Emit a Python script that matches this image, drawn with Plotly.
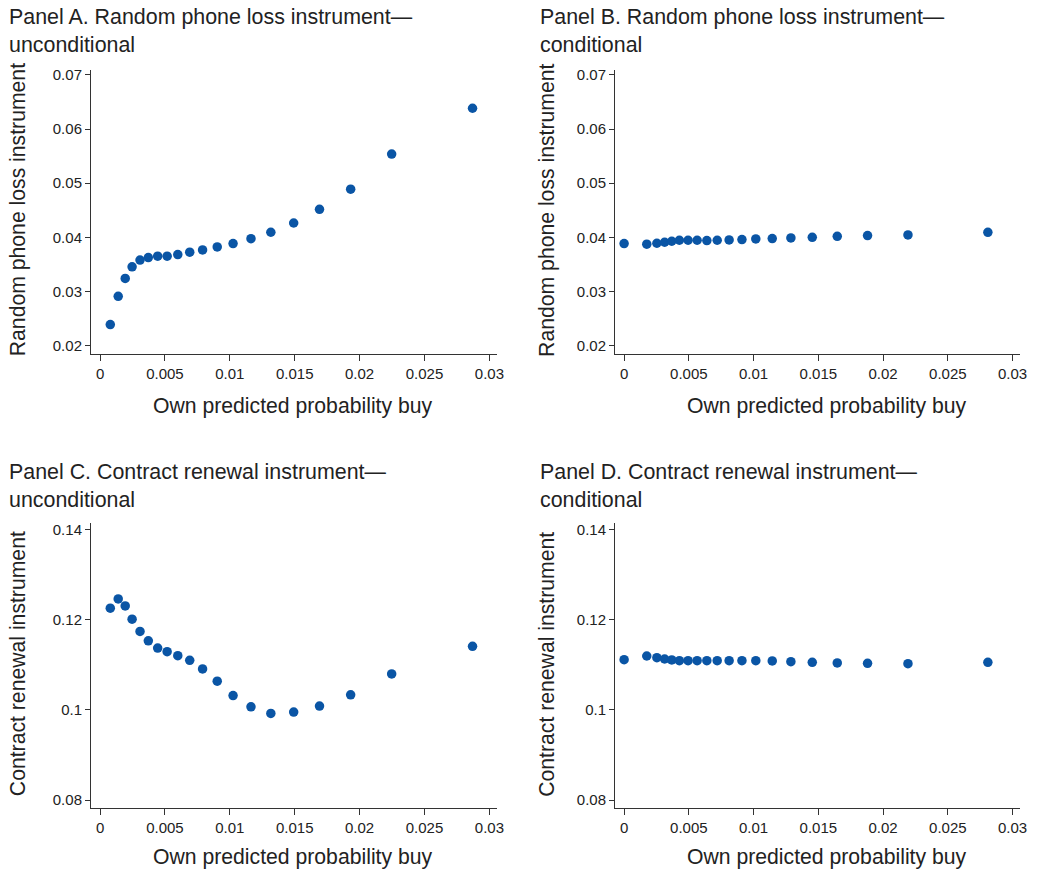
import plotly.graph_objects as go

# ---- data ----
x_uncond = [0.00079, 0.0014, 0.00194, 0.00247, 0.00308, 0.00372, 0.00444, 0.00517, 0.00599, 0.00691,
            0.0079, 0.00903, 0.01025, 0.01163, 0.01316, 0.01492, 0.01691, 0.01931, 0.02247, 0.0287]
x_cond = [0.0, 0.00175, 0.00253, 0.00313, 0.00368, 0.00427, 0.00494, 0.00564, 0.00639, 0.00719,
          0.00811, 0.0091, 0.01017, 0.01144, 0.01288, 0.01453, 0.01646, 0.0188, 0.02192, 0.02809]

y_phone_uncond = [0.02387, 0.02908, 0.03239, 0.03454, 0.03578, 0.03626, 0.03651, 0.03651, 0.03681, 0.03725,
                  0.03767, 0.03822, 0.03883, 0.03975, 0.04093, 0.04264, 0.04516, 0.0489, 0.05539, 0.06385]
y_phone_cond = [0.03884, 0.03872, 0.0389, 0.03908, 0.03927, 0.03945, 0.03945, 0.03945, 0.03939, 0.03945,
                0.03952, 0.03958, 0.0397, 0.03976, 0.03989, 0.04, 0.04018, 0.04031, 0.04044, 0.04091]
y_contract_uncond = [0.12255, 0.12461, 0.12306, 0.12012, 0.11741, 0.11533, 0.11372, 0.1129, 0.11202, 0.111,
                     0.10908, 0.10636, 0.10318, 0.10069, 0.09921, 0.09952, 0.10084, 0.10334, 0.10798, 0.1141]
y_contract_cond = [0.11114, 0.11195, 0.11158, 0.11129, 0.11107, 0.11091, 0.11091, 0.11091, 0.11091, 0.11091,
                   0.11091, 0.11091, 0.11091, 0.11085, 0.11069, 0.11056, 0.11041, 0.11034, 0.11025, 0.11056]

x_ticks = [0, 0.005, 0.01, 0.015, 0.02, 0.025, 0.03]
x_ticklabels = ["0", "0.005", "0.01", "0.015", "0.02", "0.025", "0.03"]
y_ticks_phone = [0.02, 0.03, 0.04, 0.05, 0.06, 0.07]
y_ticklabels_phone = ["0.02", "0.03", "0.04", "0.05", "0.06", "0.07"]
y_ticks_contract = [0.08, 0.10, 0.12, 0.14]
y_ticklabels_contract = ["0.08", "0.1", "0.12", "0.14"]

panel_titles = [
    "Panel A. Random phone loss instrument\u2014<br>unconditional",
    "Panel B. Random phone loss instrument\u2014<br>conditional",
    "Panel C. Contract renewal instrument\u2014<br>unconditional",
    "Panel D. Contract renewal instrument\u2014<br>conditional",
]
x_title = "Own predicted probability buy"
y_titles = ["Random phone loss instrument", "Random phone loss instrument",
            "Contract renewal instrument", "Contract renewal instrument"]

# ---- styling / layout ----
W, H = 1049, 875
FONT = "Liberation Sans, Arial, Helvetica, sans-serif"
TXT = "#222222"
AX = "#333333"
DOT = "#0a55a5"

# plot areas in pixels: (left, right, top, bottom)
areas = [
    (91.7, 500.0, 67.0, 352.7),
    (619.3, 1026.7, 67.0, 352.7),
    (91.7, 500.0, 522.7, 808.3),
    (619.3, 1026.7, 522.7, 808.3),
]
xrange_ = [-0.00069, 0.03056]
yrange_phone = [0.01841, 0.07098]
yrange_contract = [0.07832, 0.14139]

series = [
    (x_uncond, y_phone_uncond),
    (x_cond, y_phone_cond),
    (x_uncond, y_contract_uncond),
    (x_cond, y_contract_cond),
]

fig = go.Figure()
layout = dict(
    width=W, height=H, autosize=False,
    margin=dict(l=0, r=0, t=0, b=0),
    paper_bgcolor="white", plot_bgcolor="white",
    showlegend=False,
    font=dict(family=FONT, color=TXT),
)

annotations = []
title_x = [7.3, 541.7, 7.3, 541.7]
title_yc = [28.6, 28.6, 485.5, 485.5]
xt_x = [295, 833, 295, 833]
xt_y = [404.5, 404.5, 858.0, 858.0]
yt_x = [18.3, 550.5, 18.3, 550.5]
yt_y = [208, 208, 664, 664]

for i, ((xs, ys), (l, r, t, b)) in enumerate(zip(series, areas)):
    n = "" if i == 0 else str(i + 1)
    xa, ya = "x" + n, "y" + n
    fig.add_trace(go.Scatter(
        x=xs, y=ys, mode="markers", xaxis=xa, yaxis=ya,
        marker=dict(size=9.5, color=DOT, line=dict(width=0)),
        hoverinfo="x+y",
    ))
    phone = i < 2
    layout["xaxis" + n] = dict(
        domain=[l / W, r / W], anchor=ya, range=xrange_,
        tickmode="array", tickvals=x_ticks, ticktext=x_ticklabels,
        ticks="outside", ticklen=6, tickwidth=1.2, tickcolor=AX,
        showline=True, linecolor=AX, linewidth=1.2,
        showgrid=False, zeroline=False,
        tickfont=dict(size=15, color=TXT, family=FONT),
    )
    layout["yaxis" + n] = dict(
        domain=[1 - b / H, 1 - t / H], anchor=xa,
        range=yrange_phone if phone else yrange_contract,
        tickmode="array",
        tickvals=y_ticks_phone if phone else y_ticks_contract,
        ticktext=y_ticklabels_phone if phone else y_ticklabels_contract,
        ticks="outside", ticklen=5, tickwidth=1.2, tickcolor=AX,
        showline=True, linecolor=AX, linewidth=1.2,
        showgrid=False, zeroline=False,
        tickfont=dict(size=15, color=TXT, family=FONT),
    )
    annotations.append(dict(
        text=panel_titles[i], xref="paper", yref="paper",
        x=title_x[i] / W, y=1 - title_yc[i] / H, xanchor="left", yanchor="middle",
        align="left", showarrow=False, font=dict(size=21.4, color=TXT, family=FONT),
    ))
    annotations.append(dict(
        text=x_title, xref="paper", yref="paper",
        x=xt_x[i] / W, y=1 - xt_y[i] / H, xanchor="center", yanchor="middle",
        showarrow=False, font=dict(size=21.2, color=TXT, family=FONT),
    ))
    annotations.append(dict(
        text=y_titles[i], xref="paper", yref="paper", textangle=-90,
        x=yt_x[i] / W, y=1 - yt_y[i] / H, xanchor="center", yanchor="middle",
        showarrow=False, font=dict(size=21.2, color=TXT, family=FONT),
    ))

layout["annotations"] = annotations
fig.update_layout(**layout)
fig.write_html(
    "out.html",
    config={"displayModeBar": False},
    post_script="document.body.style.margin='0';document.body.style.overflow='hidden';",
)
